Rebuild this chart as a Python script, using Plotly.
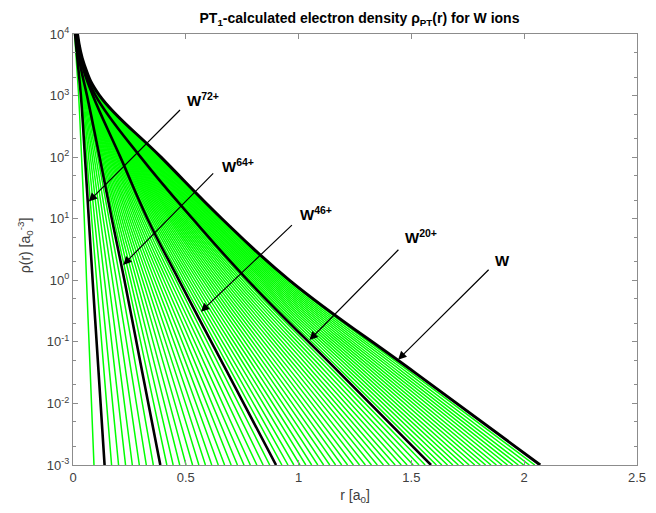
import plotly.graph_objects as go

rho_levels = [1e4, 3162.3, 1e3, 1e2, 1e1, 1e0, 0.031623, 1e-3]

# Radius r [a0] where each ion's curve reaches the level; index = ion charge 0..73
r_at_1e4 = [.0200,.0199,.0198,.0197,.0196,.0195,.0194,.0193,.0192,.0191,.0190,.0189,.0188,.0187,.0186,.0185,.0184,.0183,.0182,.0181,.0180,
            .0179,.0178,.0177,.0175,.0174,.0173,.0172,.0171,.0170,.0168,.0167,.0166,.0165,.0164,.0163,.0162,.0160,.0159,.0158,.0157,.0156,.0155,.0153,.0152,.0151,.0150,
            .0148,.0147,.0145,.0143,.0142,.0140,.0138,.0137,.0135,.0133,.0132,.0130,.0128,.0127,.0125,.0123,.0122,.0120,
            .0116,.0113,.0109,.0105,.0101,.0098,.0094,.0090,.0070]
r_at_3e3 = [.0500,.0498,.0495,.0493,.0490,.0488,.0485,.0483,.0480,.0478,.0475,.0473,.0470,.0468,.0465,.0463,.0460,.0458,.0455,.0453,.0450,
            .0448,.0446,.0444,.0442,.0440,.0438,.0437,.0435,.0433,.0431,.0429,.0427,.0425,.0423,.0421,.0419,.0417,.0415,.0413,.0412,.0410,.0408,.0406,.0404,.0402,.0400,
            .0396,.0391,.0387,.0382,.0378,.0373,.0369,.0364,.0360,.0356,.0351,.0347,.0342,.0338,.0333,.0329,.0324,.0320,
            .0308,.0295,.0283,.0270,.0258,.0245,.0233,.0220,.0160]
r_at_1e3 = [.1180,.1171,.1162,.1153,.1144,.1135,.1126,.1117,.1108,.1099,.1090,.1081,.1072,.1063,.1054,.1045,.1036,.1027,.1018,.1009,.1000,
            .0995,.0991,.0986,.0982,.0977,.0972,.0968,.0963,.0958,.0954,.0949,.0945,.0940,.0935,.0931,.0926,.0922,.0917,.0912,.0908,.0903,.0898,.0894,.0889,.0885,.0880,
            .0866,.0851,.0837,.0822,.0808,.0793,.0779,.0764,.0750,.0736,.0721,.0707,.0692,.0678,.0663,.0649,.0634,.0620,
            .0586,.0553,.0519,.0485,.0451,.0418,.0384,.0350,.0250]
r_at_1e2 = [.3900,.3855,.3810,.3765,.3720,.3675,.3630,.3585,.3540,.3495,.3450,.3405,.3360,.3315,.3270,.3225,.3180,.3135,.3090,.3045,.3000,
            .2965,.2931,.2896,.2862,.2827,.2792,.2758,.2723,.2688,.2654,.2619,.2585,.2550,.2515,.2481,.2446,.2412,.2377,.2342,.2308,.2273,.2238,.2204,.2169,.2135,.2100,
            .2049,.1998,.1947,.1896,.1844,.1793,.1742,.1691,.1640,.1589,.1538,.1487,.1436,.1384,.1333,.1282,.1231,.1180,
            .1099,.1018,.0936,.0855,.0774,.0693,.0611,.0530,.0380]
r_at_1e1 = [.6600,.6535,.6470,.6405,.6340,.6275,.6210,.6145,.6080,.6015,.5950,.5885,.5820,.5755,.5690,.5625,.5560,.5495,.5430,.5365,.5300,
            .5223,.5146,.5069,.4992,.4915,.4838,.4762,.4685,.4608,.4531,.4454,.4377,.4300,.4223,.4146,.4069,.3992,.3915,.3838,.3762,.3685,.3608,.3531,.3454,.3377,.3300,
            .3212,.3124,.3037,.2949,.2861,.2773,.2686,.2598,.2510,.2422,.2334,.2247,.2159,.2071,.1983,.1896,.1808,.1720,
            .1593,.1465,.1338,.1210,.1083,.0955,.0828,.0700,.0500]
r_at_1e0 = [.9600,.9508,.9415,.9323,.9230,.9138,.9045,.8953,.8860,.8768,.8675,.8583,.8490,.8398,.8305,.8213,.8120,.8028,.7935,.7843,.7750,
            .7633,.7515,.7398,.7281,.7163,.7046,.6929,.6812,.6694,.6577,.6460,.6342,.6225,.6108,.5990,.5873,.5756,.5638,.5521,.5404,.5287,.5169,.5052,.4935,.4817,.4700,
            .4566,.4431,.4297,.4162,.4028,.3893,.3759,.3624,.3490,.3356,.3221,.3087,.2952,.2818,.2683,.2549,.2414,.2280,
            .2104,.1928,.1751,.1575,.1399,.1223,.1046,.0870,.0600]
r_at_3em2 = [1.5155,1.4989,1.4823,1.4652,1.4485,1.4319,1.4153,1.3987,1.3815,1.3649,1.3483,1.3317,1.3150,1.2979,1.2813,1.2647,1.2480,1.2314,1.2143,1.1977,1.1810,
             1.1622,1.1428,1.1239,1.1046,1.0857,1.0663,1.0475,1.0286,1.0092,0.9904,0.9710,0.9521,0.9328,0.9139,0.8950,0.8757,0.8568,0.8374,0.8186,0.7992,0.7804,0.7615,0.7421,0.7233,0.7039,0.6850,
             0.6643,0.6431,0.6224,0.6011,0.5804,0.5592,0.5385,0.5172,0.4965,0.4753,0.4546,0.4334,0.4126,0.3914,0.3707,0.3495,0.3287,0.3075,
             0.2832,0.2589,0.2346,0.2103,0.1865,0.1622,0.1378,0.1135,0.0765]
r_at_1em3 = [2.071,2.047,2.023,1.998,1.974,1.950,1.926,1.902,1.877,1.853,1.829,1.805,1.781,1.756,1.732,1.708,1.684,1.660,1.635,1.611,1.587,
             1.561,1.534,1.508,1.481,1.455,1.428,1.402,1.376,1.349,1.323,1.296,1.270,1.243,1.217,1.191,1.164,1.138,1.111,1.085,1.058,1.032,1.006,0.979,0.953,0.926,0.900,
             0.872,0.843,0.815,0.786,0.758,0.729,0.701,0.672,0.644,0.615,0.587,0.558,0.530,0.501,0.473,0.444,0.416,0.387,
             0.356,0.325,0.294,0.263,0.233,0.202,0.171,0.140,0.093]

ion_charges = list(range(74))
highlighted = [0, 20, 46, 64, 72]
labels = {72: "W<sup>72+</sup>", 64: "W<sup>64+</sup>", 46: "W<sup>46+</sup>", 20: "W<sup>20+</sup>", 0: "W"}

y_tick_vals = [1e-3, 1e-2, 1e-1, 1e0, 1e1, 1e2, 1e3, 1e4]
y_tick_text = ["10<sup>-3</sup>", "10<sup>-2</sup>", "10<sup>-1</sup>", "10<sup>0</sup>",
               "10<sup>1</sup>", "10<sup>2</sup>", "10<sup>3</sup>", "10<sup>4</sup>"]

columns = [r_at_1e4, r_at_3e3, r_at_1e3, r_at_1e2, r_at_1e1, r_at_1e0, r_at_3em2, r_at_1em3]

FONT = "Liberation Sans, Arial"

fig = go.Figure()
for q in ion_charges:
    if q in highlighted:
        continue
    fig.add_trace(go.Scatter(x=[c[q] for c in columns], y=rho_levels, mode="lines",
                             line=dict(color="#00FF00", width=1.5, shape="spline", smoothing=1.2),
                             hoverinfo="skip", showlegend=False))
for q in highlighted:
    fig.add_trace(go.Scatter(x=[c[q] for c in columns], y=rho_levels, mode="lines",
                             line=dict(color="black", width=3 if q == 0 else 2.6, shape="spline", smoothing=1.2),
                             name=labels[q], showlegend=False))

# arrows: (tip r, tip log10 rho, tail r, tail log10 rho, label r, label log10 rho)
arrows = {72: (0.070, 1.28, 0.481, 2.79, 0.497, 2.93),
          64: (0.2225, 0.25, 0.628, 1.76, 0.650, 1.87),
          46: (0.567, -0.51, 0.977, 0.92, 0.999, 1.08),
          20: (1.048, -0.97, 1.449, 0.52, 1.462, 0.71),
          0: (1.441, -1.29, 1.849, 0.196, 1.863, 0.315)}
for q, (tx, ty, ax, ay, lx, ly) in arrows.items():
    fig.add_annotation(x=tx, y=ty, ax=ax, ay=ay, axref="x", ayref="y", xref="x", yref="y",
                       text="", showarrow=True, arrowhead=2, arrowsize=1.4, arrowwidth=1.2,
                       arrowcolor="black", standoff=0)
    fig.add_annotation(x=lx, y=ly, xref="x", yref="y", text="<b>" + labels[q] + "</b>",
                       showarrow=False, xanchor="left", yanchor="middle",
                       font=dict(family=FONT, size=15, color="black"))

# y-axis title placed as a rotated annotation
fig.add_annotation(x=-0.085, y=0.51, xref="paper", yref="paper", xanchor="center", yanchor="middle",
                   text="ρ(r) [a<sub>0</sub><sup>-3</sup>]", textangle=-90, showarrow=False,
                   font=dict(family=FONT, size=14, color="#404040"))

axis_common = dict(showline=True, linecolor="#8c8c8c", linewidth=1, mirror="ticks",
                   ticks="inside", ticklen=5, tickcolor="#8c8c8c", showgrid=False, zeroline=False,
                   tickfont=dict(family=FONT, size=13, color="#404040"))
fig.update_xaxes(range=[0, 2.5], dtick=0.5, tick0=0,
                 title=dict(text="r [a<sub>0</sub>]", font=dict(family=FONT, size=14, color="#404040"), standoff=6),
                 **axis_common)
fig.update_yaxes(type="log", range=[-3, 4], tickvals=y_tick_vals, ticktext=y_tick_text,
                 minor=dict(ticks="inside", ticklen=3, tickcolor="#8c8c8c", showgrid=False),
                 **axis_common)
fig.update_layout(
    width=656, height=513, plot_bgcolor="white", paper_bgcolor="white",
    margin=dict(l=73, r=10, t=34, b=48),
    title=dict(text="<b>PT<sub>1</sub>-calculated electron density ρ<sub>PT</sub>(r) for W ions</b>",
               x=0.548, xanchor="center", y=0.975, yanchor="top",
               font=dict(family=FONT, size=14, color="black")),
)
fig.write_html("out.html")
